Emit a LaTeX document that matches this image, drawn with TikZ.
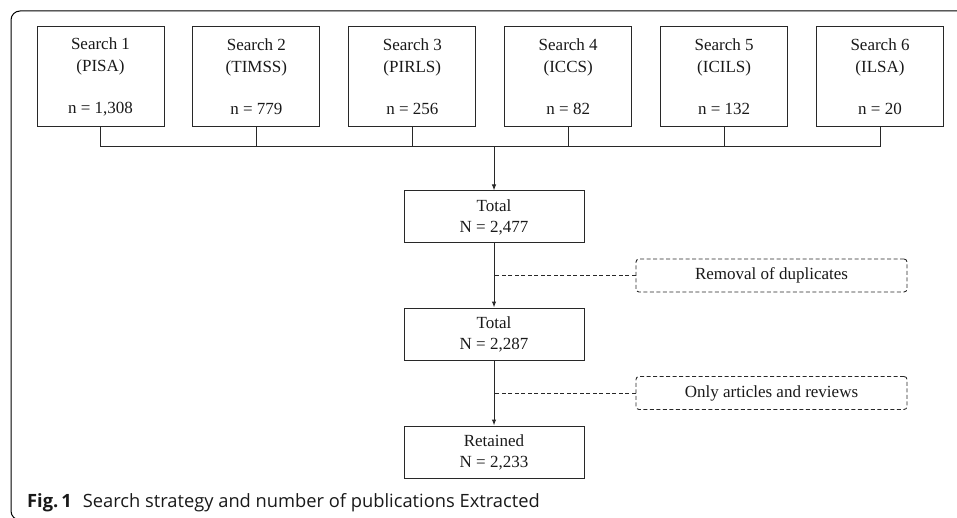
\documentclass[tikz,border=0pt]{standalone}
\usepackage{fontspec}
\setmainfont{Liberation Serif}
\newfontfamily\capfont{Open Sans}
\usepackage{xcolor}
\usetikzlibrary{calc,positioning,arrows.meta}

\definecolor{linegray}{RGB}{40,40,40}
\definecolor{textblack}{RGB}{25,25,25}

\begin{document}
\begin{tikzpicture}[x=1pt,y=1pt,
    searchbox/.style={draw=linegray, line width=1pt, minimum width=127pt, minimum height=100pt,
        inner sep=0pt, align=center, text=textblack, font=\fontsize{17}{22}\selectfont},
    totalbox/.style={draw=linegray, line width=1pt, minimum width=180pt, minimum height=52pt,
        inner sep=0pt, align=center, text=textblack, font=\fontsize{17}{21}\selectfont},
    notebox/.style={draw=linegray, line width=0.9pt, dash pattern=on 4pt off 2.5pt, rounded corners=3pt,
        minimum width=271pt, minimum height=33pt, inner sep=0pt, text=textblack, font=\fontsize{17}{21}\selectfont},
    link/.style={draw=linegray, line width=1pt},
    flow/.style={link, -{Latex[length=6pt,width=4.5pt]}},
    noteline/.style={draw=linegray, line width=0.9pt, dash pattern=on 4pt off 2.5pt}]

    \useasboundingbox (0,0) rectangle (957,517);

    % frame of the figure
    \draw[line width=1pt, rounded corners=9pt] (975,506) -- (11,506) -- (11,-3) -- (40,-3);

    % the six searches
    \foreach \study/\hits [count=\i] in {PISA/{1,308}, TIMSS/779, PIRLS/256, ICCS/82, ICILS/132, ILSA/20}
        \node[searchbox] (s\i) at ({100.5+(\i-1)*155.9},440) {Search \i\\(\study)\\[20pt]n = \hits};

    \coordinate (bus) at (0,370);
    \draw[link] (s1.south) -- (s1.south |- bus) -- (s6.south |- bus) -- (s6.south);
    \foreach \i in {2,...,5}
        \draw[link] (s\i.south) -- (s\i.south |- bus);

    % flow of the totals
    \node[totalbox] (total1) at (494,300) {Total\\N = 2,477};
    \node[totalbox, below=64pt of total1] (total2) {Total\\N = 2,287};
    \node[totalbox, below=65pt of total2] (retained) {Retained\\N = 2,233};

    \draw[flow] (total1.north |- bus) -- (total1.north);
    \draw[flow] (total1) -- (total2);
    \draw[flow] (total2) -- (retained);

    % exclusion steps
    \node[notebox] (dup) at ($(total1.south)!.5!(total2.north) + (277.5,0)$) {Removal of duplicates};
    \node[notebox] (art) at ($(total2.south)!.5!(retained.north) + (277.5,0)$) {Only articles and reviews};
    \draw[noteline] (dup.west) -- (dup.west -| total1.south);
    \draw[noteline] (art.west) -- (art.west -| total2.south);

    % caption
    \node[anchor=base west, inner sep=0pt, text=textblack, font=\capfont\fontsize{18.3}{20}\selectfont] (caption) at (27,10)
        {\textbf{Fig.\,1}\hspace{0.6em}Search strategy and number of publications Extracted};
\end{tikzpicture}
\end{document}
